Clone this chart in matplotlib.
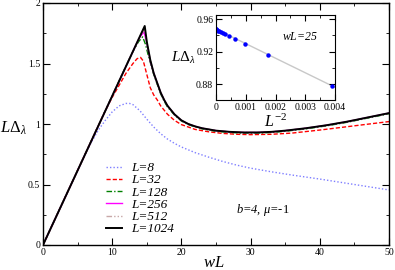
import matplotlib
matplotlib.use("Agg")
import matplotlib.pyplot as plt
import numpy as np
from matplotlib.ticker import MultipleLocator, FixedLocator, FixedFormatter

plt.rcParams['font.family'] = ['Liberation Serif', 'DejaVu Serif']
plt.rcParams['mathtext.fontset'] = 'custom'
plt.rcParams['mathtext.rm'] = 'Liberation Serif'
plt.rcParams['mathtext.it'] = 'Liberation Serif:italic'
plt.rcParams['mathtext.bf'] = 'Liberation Serif:bold'

# ---- main panel data (wL, L*Delta) ----
x8 = [0, 6, 7, 8, 9, 10, 11, 12, 12.5, 13, 14, 15, 16, 17, 18, 19, 20, 22, 24, 26, 28, 30, 33, 36, 40, 45, 50]
y8 = [0, 0.74, 0.85, 0.95, 1.03, 1.10, 1.15, 1.17, 1.17, 1.16, 1.11, 1.04, 0.975, 0.92, 0.875, 0.84, 0.81, 0.763, 0.725, 0.69, 0.66, 0.635, 0.605, 0.578, 0.545, 0.50, 0.455]

x32 = [0, 9, 10, 11, 12, 13, 13.6, 14.1, 14.5, 15.0, 15.5, 16.0, 16.5, 17, 18, 19, 20, 22, 24, 26, 28, 30, 33, 36, 40, 45, 50]
y32 = [0, 1.11, 1.22, 1.32, 1.42, 1.50, 1.54, 1.55, 1.52, 1.41, 1.30, 1.24, 1.20, 1.15, 1.08, 1.03, 0.995, 0.955, 0.935, 0.922, 0.915, 0.912, 0.915, 0.925, 0.95, 0.985, 1.02]

x128 = [0, 12, 13, 13.8, 14.4, 14.8, 15.2, 15.6, 16.0, 16.5, 17.0, 17.5, 18.0, 19, 20, 21, 22, 23, 25, 27, 29, 31, 33, 35, 38, 41, 44, 47, 50]
y128 = [0, 1.48, 1.60, 1.68, 1.72, 1.66, 1.57, 1.49, 1.41, 1.33, 1.25, 1.19, 1.14, 1.075, 1.025, 0.995, 0.975, 0.96, 0.94, 0.93, 0.925, 0.925, 0.93, 0.94, 0.96, 0.985, 1.015, 1.05, 1.085]

x256 = [0, 13, 14.0, 14.6, 15.0, 15.5, 16.0, 16.5, 17.0, 17.5, 18.0, 19, 20, 21, 22, 23, 25, 27, 29, 31, 33, 35, 38, 41, 44, 47, 50]
y256 = [0, 1.60, 1.72, 1.76, 1.67, 1.52, 1.42, 1.34, 1.26, 1.20, 1.15, 1.08, 1.03, 1.00, 0.98, 0.965, 0.945, 0.935, 0.93, 0.93, 0.935, 0.945, 0.965, 0.99, 1.02, 1.055, 1.09]

x512 = [0, 13, 14.0, 14.65, 15.0, 15.5, 16.0, 16.5, 17.0, 17.5, 18.0, 19, 20, 21, 22, 23, 25, 27, 29, 31, 33, 35, 38, 41, 44, 47, 50]
y512 = [0, 1.60, 1.725, 1.78, 1.68, 1.53, 1.42, 1.34, 1.26, 1.20, 1.15, 1.08, 1.03, 1.00, 0.98, 0.965, 0.945, 0.935, 0.93, 0.93, 0.935, 0.945, 0.965, 0.99, 1.02, 1.055, 1.09]

x1024 = [0, 14.7, 15.0, 15.5, 16.0, 16.5, 17.0, 17.5, 18.0, 19, 20, 21, 22, 23, 25, 27, 29, 31, 33, 35, 38, 41, 44, 47, 50]
y1024 = [0, 1.81, 1.68, 1.53, 1.42, 1.34, 1.26, 1.20, 1.15, 1.08, 1.03, 1.00, 0.98, 0.965, 0.945, 0.935, 0.93, 0.93, 0.935, 0.945, 0.965, 0.99, 1.02, 1.055, 1.09]

labels = ["L=8", "L=32", "L=128", "L=256", "L=512", "L=1024"]

# ---- inset data (wL = 25) ----
L_inset = [16, 24, 32, 40, 48, 56, 64, 80, 96, 128, 192, 256, 512, 1024]
y_inset = [0.8776, 0.916, 0.9293, 0.9358, 0.9394, 0.9412, 0.9425, 0.9440, 0.9450, 0.9460, 0.9468, 0.9471, 0.9474, 0.9475]
fit_x = [0.0, 0.004]
fit_y = [0.9478, 0.8765]

xticks_main = [0, 10, 20, 30, 40, 50]
xticklabels_main = ["0", "10", "20", "30", "40", "50"]
yticks_main = [0, 0.5, 1, 1.5, 2]
yticklabels_main = ["0", "0.5", "1", "1.5", "2"]
xticks_in = [0, 0.001, 0.002, 0.003, 0.004]
xticklabels_in = ["0", "0.001", "0.002", "0.003", "0.004"]
yticks_in = [0.88, 0.92, 0.96]
yticklabels_in = ["0.88", "0.92", "0.96"]

W, H = 395, 270
fig = plt.figure(figsize=(W / 100, H / 100), dpi=100)
ax = fig.add_axes([43 / W, 1 - 245 / H, (389 - 43) / W, (245 - 3) / H])

styles = [
    dict(color='#7f7fff', ls=(0, (1, 1.5)), lw=1.0),
    dict(color='#ff0000', ls=(0, (3, 1.5)), lw=1.0),
    dict(color='#008000', ls=(0, (4, 1.5, 1, 1.5)), lw=1.0),
    dict(color='#ff00ff', ls='-', lw=1.0),
    dict(color='#c8a8a8', ls=(0, (4, 1.5, 1, 1.5, 1, 1.5)), lw=1.0),
    dict(color='#000000', ls='-', lw=1.4),
]
series = [(x8, y8), (x32, y32), (x128, y128), (x256, y256), (x512, y512), (x1024, y1024)]
for (xs, ys), st, lab in zip(series, styles, labels):
    ax.plot(xs, ys, label=lab, **st)

ax.set_xlim(0, 50)
ax.set_ylim(0, 2)
ax.xaxis.set_major_locator(FixedLocator(xticks_main))
ax.xaxis.set_major_formatter(FixedFormatter(xticklabels_main))
ax.yaxis.set_major_locator(FixedLocator(yticks_main))
ax.yaxis.set_major_formatter(FixedFormatter(yticklabels_main))
ax.xaxis.set_minor_locator(MultipleLocator(5))
ax.yaxis.set_minor_locator(MultipleLocator(0.25))
ax.tick_params(which='both', direction='in', top=True, right=True, labelsize=7, pad=2)
ax.tick_params(which='major', length=5)
ax.tick_params(which='minor', length=2.5)
for s in ax.spines.values():
    s.set_linewidth(1.0)

fig.text(14 / W, 1 - 128 / H, r"$L\Delta_\lambda$", fontsize=12, ha='center', va='center')
fig.text(214 / W, 1 - 263 / H, r"$wL$", fontsize=12, ha='center', va='center')
fig.text(263 / W, 1 - 210 / H, r"$b$=4, μ=-$1$", fontsize=9, ha='center', va='center', style='italic')

leg = ax.legend(loc='upper left', bbox_to_anchor=(106 / W, 1 - 162 / H), bbox_transform=fig.transFigure,
                frameon=False, prop={'family': 'Liberation Serif', 'size': 9.5, 'style': 'italic'},
                handlelength=1.2, handletextpad=0.7, labelspacing=0.0, borderpad=0, borderaxespad=0)

# ---- inset ----
axi = fig.add_axes([216 / W, 1 - 100 / H, (335 - 216) / W, (100 - 15) / H])
axi.plot(fit_x, fit_y, color='#c8c8c8', lw=1.0, zorder=1)
axi.plot([1.0 / (L * L) for L in L_inset], y_inset, 'o', color='#0000ff', ms=3.2, mew=0, zorder=2)
axi.set_xlim(0, 0.004)
axi.set_ylim(0.861, 0.965)
axi.xaxis.set_major_locator(FixedLocator(xticks_in))
axi.xaxis.set_major_formatter(FixedFormatter(xticklabels_in))
axi.yaxis.set_major_locator(FixedLocator(yticks_in))
axi.yaxis.set_major_formatter(FixedFormatter(yticklabels_in))
axi.xaxis.set_minor_locator(MultipleLocator(0.0005))
axi.yaxis.set_minor_locator(MultipleLocator(0.02))
axi.tick_params(which='both', direction='in', top=True, right=True, labelsize=7, pad=2)
axi.tick_params(which='major', length=4)
axi.tick_params(which='minor', length=2)
for s in axi.spines.values():
    s.set_linewidth(0.8)
fig.text(183 / W, 1 - 58 / H, r"$L\Delta_\lambda$", fontsize=11, ha='center', va='center')
fig.text(276 / W, 1 - 122 / H, r"$L^{-2}$", fontsize=11.5, ha='center', va='center')
fig.text(300 / W, 1 - 37 / H, r"$wL$=25", fontsize=8.5, ha='center', va='center', style='italic')

fig.savefig("out.png", dpi=100)
